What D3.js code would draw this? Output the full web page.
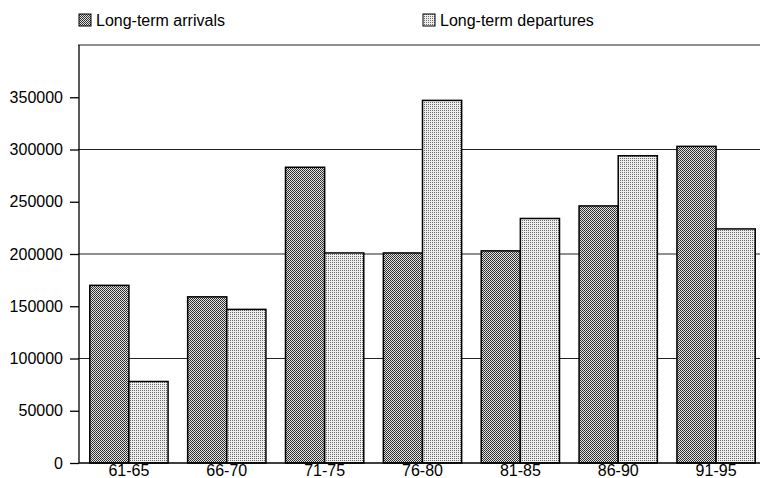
<!DOCTYPE html>
<html>
<head>
<meta charset="utf-8">
<script src="https://cdn.jsdelivr.net/npm/d3@7/dist/d3.min.js"></script>
<style>
html,body{margin:0;padding:0;background:#fff;}
svg{display:block;font-family:"Liberation Sans",Arial,sans-serif;}
</style>
</head>
<body>
<svg id="chart" width="760" height="478"></svg>
<script>
const categories = ["61-65","66-70","71-75","76-80","81-85","86-90","91-95"];
const arrivals   = [170000,159000,283000,201000,203000,246000,303000];
const departures = [78000,147000,201000,347000,234000,294000,224000];
const seriesNames = ["Long-term arrivals","Long-term departures"];
const yTicks = [0,50000,100000,150000,200000,250000,300000,350000];
const gridValues = [100000,200000,300000,400000];

const svg = d3.select("#chart");
const W = 760;

const defs = svg.append("defs");
const pa = defs.append("pattern").attr("id","patA").attr("patternUnits","userSpaceOnUse").attr("width",2).attr("height",2);
pa.append("rect").attr("width",2).attr("height",2).attr("fill","#e2e2e2");
pa.append("rect").attr("x",0).attr("y",0).attr("width",1).attr("height",1).attr("fill","#2a2a2a");
pa.append("rect").attr("x",1).attr("y",1).attr("width",1).attr("height",1).attr("fill","#3a3a3a");
const pd = defs.append("pattern").attr("id","patD").attr("patternUnits","userSpaceOnUse").attr("width",2).attr("height",2);
pd.append("rect").attr("width",2).attr("height",2).attr("fill","#eeeeee");
pd.append("rect").attr("x",0).attr("y",0).attr("width",1).attr("height",1).attr("fill","#6a6a6a");

const x = d3.scaleBand().domain(categories).range([80,765]).paddingInner(0.2).paddingOuter(0.1);
const y = d3.scaleLinear().domain([0,400000]).range([463,45]);
const axisX = 79;

// gridlines
svg.append("g").selectAll("line").data(gridValues).join("line")
  .attr("x1",axisX-1).attr("x2",W)
  .attr("y1",d=>y(d)).attr("y2",d=>y(d))
  .attr("stroke","#222").attr("stroke-width",1.2);

// bars
const half = x.bandwidth()/2;
const g = svg.append("g");
g.selectAll("rect.arr").data(categories).join("rect").attr("class","arr")
  .attr("x",d=>x(d)).attr("width",half)
  .attr("y",(d,i)=>y(arrivals[i])).attr("height",(d,i)=>y(0)-y(arrivals[i]))
  .attr("fill","url(#patA)").attr("stroke","#000").attr("stroke-width",1.5);
g.selectAll("rect.dep").data(categories).join("rect").attr("class","dep")
  .attr("x",d=>x(d)+half).attr("width",half)
  .attr("y",(d,i)=>y(departures[i])).attr("height",(d,i)=>y(0)-y(departures[i]))
  .attr("fill","url(#patD)").attr("stroke","#000").attr("stroke-width",1.5);

// baseline
svg.append("line").attr("x1",axisX).attr("x2",W).attr("y1",y(0)).attr("y2",y(0))
  .attr("stroke","#000").attr("stroke-width",1.5);

// y axis
const yAxis = svg.append("g").attr("transform",`translate(${axisX},0)`)
  .call(d3.axisLeft(y).tickValues(yTicks).tickSize(9).tickSizeOuter(0).tickPadding(7).tickFormat(d3.format("d")));
yAxis.select(".domain").remove();
yAxis.selectAll(".tick line").attr("stroke","#000").attr("stroke-width",1.3);
yAxis.selectAll(".tick text").attr("font-size",16).attr("fill","#000").attr("font-family","Liberation Sans, Arial, sans-serif");
svg.append("line").attr("x1",axisX).attr("x2",axisX).attr("y1",y(400000)).attr("y2",y(0))
  .attr("stroke","#000").attr("stroke-width",1.3);

// x labels
svg.append("g").selectAll("text").data(categories).join("text")
  .attr("x",d=>x(d)+x.bandwidth()/2).attr("y",476)
  .attr("text-anchor","middle").attr("font-size",16).attr("fill","#000")
  .text(d=>d);

// legend
const legendX = [79,423];
const fills = ["url(#patA)","url(#patD)"];
seriesNames.forEach((name,i)=>{
  svg.append("rect").attr("x",legendX[i]).attr("y",14).attr("width",12).attr("height",12)
    .attr("fill",fills[i]).attr("stroke","#000").attr("stroke-width",1);
  svg.append("text").attr("x",legendX[i]+17).attr("y",26).attr("font-size",16).attr("fill","#000").text(name);
});
</script>
</body>
</html>
